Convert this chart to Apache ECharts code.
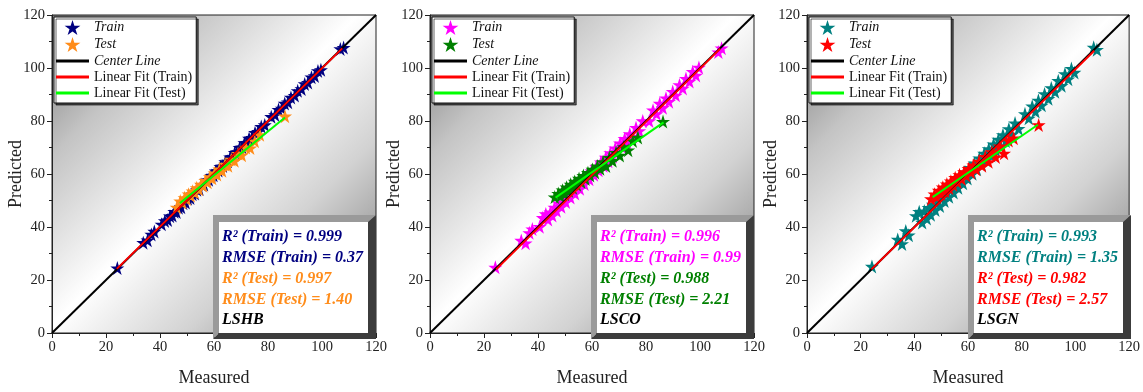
<!DOCTYPE html>
<html>
<head>
<meta charset="utf-8">
<script src="https://cdn.jsdelivr.net/npm/echarts@6/dist/echarts.min.js"></script>
<style>
  html, body { margin: 0; padding: 0; background: #fff; }
  #chart { width: 1143px; height: 392px; }
</style>
</head>
<body>
<div id="chart"></div>
<script>
// measured values (shared by the three models)
const trainMeasured = [24.2, 33.8, 35.4, 36.8, 37.9, 40.6, 41.8, 42.9, 43.7, 44.6, 45.3, 46.1, 46.9, 47.8, 48.6, 49.5, 50.3, 51.2, 52.0, 52.9, 53.7, 54.6, 55.5, 56.3, 57.2, 58.1, 59.0, 59.8, 60.7, 61.6, 62.4, 63.3, 64.2, 65.1, 66.0, 66.8, 67.7, 68.6, 69.5, 70.4, 71.3, 72.1, 73.0, 74.0, 75.2, 76.3, 77.5, 78.8, 81.2, 82.6, 83.9, 85.1, 86.2, 87.4, 88.5, 89.9, 91.0, 92.4, 93.6, 94.8, 96.1, 97.3, 98.5, 99.6, 106.8, 108.0];
const testMeasured = [46.2, 47.5, 48.3, 49.1, 49.9, 50.6, 51.4, 52.1, 52.9, 53.6, 54.4, 55.2, 56.0, 56.8, 57.6, 58.5, 59.3, 60.2, 61.1, 62.0, 63.0, 64.1, 65.2, 66.4, 67.6, 68.9, 70.3, 71.8, 73.4, 75.1, 77.0, 86.3];

// predicted values
const trainPredLSHB = [24.5, 34.1, 35.0, 37.2, 38.3, 41.0, 42.3, 42.6, 44.1, 44.3, 45.8, 45.7, 47.3, 47.5, 49.0, 49.2, 50.7, 50.9, 52.4, 52.6, 54.1, 54.3, 55.9, 56.0, 57.6, 57.8, 59.4, 59.5, 61.1, 61.3, 62.8, 63.0, 64.6, 64.8, 66.4, 66.5, 68.1, 68.3, 69.9, 70.1, 71.7, 71.8, 73.4, 73.7, 75.6, 76.0, 77.9, 78.5, 81.6, 82.3, 84.3, 84.8, 86.6, 87.1, 88.9, 89.6, 91.4, 92.1, 94.0, 94.5, 96.5, 97.0, 98.9, 99.3, 107.2, 107.7];
const testPredLSHB = [47.4, 49.8, 49.2, 51.0, 50.6, 52.4, 51.8, 53.5, 53.0, 54.8, 54.2, 56.1, 55.6, 57.5, 56.9, 58.9, 58.4, 60.3, 59.8, 61.8, 61.2, 63.6, 63.1, 65.5, 65.0, 67.7, 67.1, 70.0, 69.8, 72.4, 74.8, 81.8];
const trainPredLSCO = [24.8, 34.9, 33.9, 37.8, 39.2, 40.1, 43.5, 44.9, 42.8, 45.6, 44.3, 47.4, 46.1, 48.9, 47.6, 50.7, 49.4, 52.3, 51.1, 54.0, 52.6, 55.9, 54.4, 57.5, 56.2, 59.4, 58.0, 61.1, 59.7, 62.8, 61.4, 64.5, 63.1, 66.3, 64.8, 68.0, 66.6, 69.8, 68.3, 71.6, 70.0, 73.3, 72.0, 75.1, 74.1, 77.5, 76.3, 80.0, 80.0, 84.1, 82.7, 86.6, 85.0, 88.6, 87.3, 91.1, 89.7, 93.6, 92.3, 96.0, 94.9, 98.6, 97.2, 100.2, 106.0, 107.5];
const testPredLSCO = [51.3, 52.6, 51.7, 53.9, 52.4, 55.0, 53.7, 56.1, 54.8, 57.2, 55.9, 58.3, 57.0, 59.4, 58.1, 60.5, 59.4, 61.7, 60.6, 63.0, 62.0, 64.6, 63.0, 66.2, 65.0, 68.1, 67.0, 70.2, 69.0, 72.5, 73.8, 79.8];
const trainPredLSGN = [25.1, 35.3, 33.6, 38.5, 36.9, 44.2, 45.8, 41.7, 46.0, 43.2, 47.3, 44.6, 48.5, 46.4, 50.4, 47.9, 52.0, 49.8, 53.6, 51.4, 55.3, 53.0, 57.2, 54.8, 58.9, 56.5, 60.7, 58.3, 62.4, 60.1, 64.1, 61.8, 66.0, 63.5, 67.8, 65.2, 69.5, 67.0, 71.3, 68.9, 73.1, 70.4, 74.8, 72.5, 77.0, 74.9, 79.2, 77.1, 82.7, 81.0, 85.6, 83.6, 87.8, 85.9, 90.2, 88.4, 92.5, 91.0, 95.2, 93.3, 97.8, 95.8, 99.8, 98.3, 107.8, 106.9];
const testPredLSGN = [50.6, 52.4, 51.3, 53.8, 52.5, 55.0, 53.6, 56.2, 54.7, 57.3, 55.9, 58.6, 57.0, 59.7, 58.1, 60.8, 59.4, 62.0, 60.6, 63.3, 61.8, 64.8, 63.1, 66.5, 64.6, 68.3, 66.4, 70.5, 67.8, 72.6, 73.5, 78.5];

// line end points [x, y]
const centerLine = [[0, 0], [120, 120]];
const fitTrainLSHB = [[24, 24.2], [107.5, 107.4]];
const fitTestLSHB = [[47.4, 49.0], [86.3, 81.3]];
const fitTrainLSCO = [[24.5, 24.0], [107.5, 107.3]];
const fitTestLSCO = [[46.5, 51.1], [86.5, 79.5]];
const fitTrainLSGN = [[24.0, 24.0], [107.0, 106.5]];
const fitTestLSGN = [[46.8, 51.3], [86.0, 78.6]];

// stats
const modelNames = ['LSHB', 'LSCO', 'LSGN'];
const r2Train = ['0.999', '0.996', '0.993'];
const rmseTrain = ['0.37', '0.99', '1.35'];
const r2Test = ['0.997', '0.988', '0.982'];
const rmseTest = ['1.40', '2.21', '2.57'];

const axisTicks = [0, 20, 40, 60, 80, 100, 120];

const trainColors = ['#000080', '#ff00ff', '#008080'];
const testColors = ['#ff8c1a', '#008000', '#ff0000'];

const FONT = '"Liberation Serif", "Times New Roman", serif';
const STAR = 'path://M100,0 L122.45,69.1 L195.1,69.1 L136.3,111.8 L158.8,180.9 L100,138.2 L41.2,180.9 L63.7,111.8 L4.9,69.1 L77.55,69.1 Z';
const LINE_ICON = 'path://M0,0 L11,0 L11,1 L0,1 Z';

const panels = [
  {train: trainPredLSHB, test: testPredLSHB, fitTrain: fitTrainLSHB, fitTest: fitTestLSHB},
  {train: trainPredLSCO, test: testPredLSCO, fitTrain: fitTrainLSCO, fitTest: fitTestLSCO},
  {train: trainPredLSGN, test: testPredLSGN, fitTrain: fitTrainLSGN, fitTest: fitTestLSGN}
];

const plotLeft = [52, 430, 807];
const plotW = 324;
const plotTop = 15;
const plotBottom = 341;

function zip(xs, ys) {
  return xs.map((x, i) => [x, ys[i]]);
}

const grid = [], xAxis = [], yAxis = [], series = [], legend = [], graphic = [];

const bgFill = {
  type: 'linear', x: 0, y: 0, x2: 1, y2: 1,
  colorStops: [
    {offset: 0, color: '#767676'},
    {offset: 0.22, color: '#c4c4c4'},
    {offset: 0.48, color: '#ffffff'},
    {offset: 0.7, color: '#d2d2d2'},
    {offset: 1, color: '#707070'}
  ]
};

panels.forEach((p, i) => {
  const left = plotLeft[i];
  grid.push({
    left: left, width: plotW, top: plotTop, height: plotBottom - plotTop,
    show: true, backgroundColor: bgFill, borderColor: '#222', borderWidth: 1
  });
  const axisCommon = {
    gridIndex: i, type: 'value', min: 0, max: 120, interval: 20,
    nameLocation: 'middle', nameGap: 36, nameMoveOverlap: false,
    nameTextStyle: {fontFamily: FONT, fontSize: 18, color: '#222'},
    axisLine: {show: true, onZero: false, lineStyle: {color: '#222', width: 1}},
    axisTick: {show: true, length: 5, lineStyle: {color: '#222'}},
    minorTick: {show: true, splitNumber: 2, length: 3, lineStyle: {color: '#222'}},
    axisLabel: {fontFamily: FONT, fontSize: 14.5, color: '#222', margin: 7,
      formatter: v => axisTicks.includes(v) ? String(v) : ''},
    splitLine: {show: false}
  };
  xAxis.push(Object.assign({}, axisCommon, {name: 'Measured'}));
  yAxis.push(Object.assign({}, axisCommon, {name: 'Predicted', nameGap: 27}));

  const tag = '|' + i;
  series.push({
    name: 'Train' + tag, type: 'scatter', xAxisIndex: i, yAxisIndex: i,
    symbol: STAR, symbolSize: 14, itemStyle: {color: trainColors[i], opacity: 1},
    data: zip(trainMeasured, p.train), z: 2
  });
  series.push({
    name: 'Test' + tag, type: 'scatter', xAxisIndex: i, yAxisIndex: i,
    symbol: STAR, symbolSize: 14, itemStyle: {color: testColors[i], opacity: 1},
    data: zip(testMeasured, p.test), z: 3
  });
  const lineSeries = (name, data, color) => ({
    name: name + tag, type: 'line', xAxisIndex: i, yAxisIndex: i,
    symbol: 'none', showSymbol: false, data: data, z: 4,
    lineStyle: {color: color, width: 2}, itemStyle: {color: color}
  });
  series.push(lineSeries('Center Line', centerLine, '#000'));
  series.push(lineSeries('Linear Fit (Train)', p.fitTrain, '#ff0000'));
  series.push(lineSeries('Linear Fit (Test)', p.fitTest, '#00ff00'));

  const it = {fontStyle: 'italic'};
  legend.push({
    orient: 'vertical', left: left + 2, top: plotTop + 2,
    selectedMode: false,
    backgroundColor: '#fff', borderColor: '#111', borderWidth: 1,
    shadowColor: 'rgba(0,0,0,0.6)', shadowOffsetX: 2, shadowOffsetY: 2, shadowBlur: 0,
    padding: [3, 4, 3, 2], itemGap: 2, itemWidth: 33, itemHeight: 15,
    textStyle: {fontFamily: FONT, fontSize: 14, color: '#111'},
    formatter: name => name.split('|')[0],
    data: [
      {name: 'Train' + tag, textStyle: it},
      {name: 'Test' + tag, textStyle: it},
      {name: 'Center Line' + tag, icon: LINE_ICON, textStyle: it},
      {name: 'Linear Fit (Train)' + tag, icon: LINE_ICON},
      {name: 'Linear Fit (Test)' + tag, icon: LINE_ICON}
    ]
  });

  // stats box with bevelled frame
  const right = left + plotW;
  const x0 = right - 163, y0 = 215, x1 = right, y1 = 339;
  const ix0 = x0 + 6, iy0 = y0 + 7, ix1 = right - 8, iy1 = y1 - 6;
  graphic.push({
    type: 'polygon', z: 10,
    shape: {points: [[x0, y0], [x1, y0], [ix1, iy0], [ix0, iy0], [ix0, iy1], [x0, y1]]},
    style: {fill: '#9a9a9a'}
  });
  graphic.push({
    type: 'polygon', z: 10,
    shape: {points: [[x1, y0], [x1, y1], [x0, y1], [ix0, iy1], [ix1, iy1], [ix1, iy0]]},
    style: {fill: '#3c3c3c'}
  });
  graphic.push({
    type: 'rect', z: 11,
    shape: {x: ix0, y: iy0, width: ix1 - ix0, height: iy1 - iy0},
    style: {fill: '#fff'}
  });
  const lines = [
    ['R\u00b2 (Train) = ' + r2Train[i], trainColors[i]],
    ['RMSE (Train) = ' + rmseTrain[i], trainColors[i]],
    ['R\u00b2 (Test) = ' + r2Test[i], testColors[i]],
    ['RMSE (Test) = ' + rmseTest[i], testColors[i]],
    [modelNames[i], '#000']
  ];
  lines.forEach((ln, k) => {
    graphic.push({
      type: 'text', z: 12, x: ix0 + 3, y: 237 + k * 20.8,
      style: {text: ln[0], fill: ln[1], font: 'italic bold 16px ' + FONT,
        textVerticalAlign: 'middle', verticalAlign: 'middle'}
    });
  });
});

const chart = echarts.init(document.getElementById('chart'), null, {renderer: 'canvas'});
chart.setOption({
  backgroundColor: '#fff',
  animation: false,
  grid, xAxis, yAxis, series, legend, graphic
});
</script>
</body>
</html>
